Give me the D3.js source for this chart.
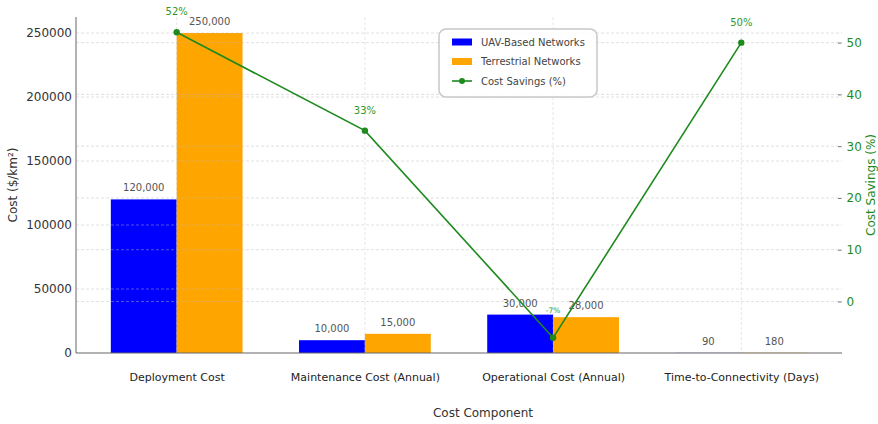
<!DOCTYPE html>
<html>
<head>
<meta charset="utf-8">
<script src="https://cdn.jsdelivr.net/npm/d3@7"></script>
<style>
  html, body { margin: 0; padding: 0; background: #fff; }
  svg { display: block; font-family: "DejaVu Sans", sans-serif; }
</style>
</head>
<body>
<svg id="chart" width="878" height="424"></svg>
<script>
// ---- data ----
const categories = ["Deployment Cost", "Maintenance Cost (Annual)", "Operational Cost (Annual)", "Time-to-Connectivity (Days)"];
const uavValues = [120000, 10000, 30000, 90];
const terrestrialValues = [250000, 15000, 28000, 180];
const savingsValues = [52, 33, -7, 50];
const costTicks = [0, 50000, 100000, 150000, 200000, 250000];
const savingsTicks = [0, 10, 20, 30, 40, 50];
const seriesNames = ["UAV-Based Networks", "Terrestrial Networks", "Cost Savings (%)"];

(function () {
// ---- layout ----
const pL = 76, pR = 842, pT = 17, pB = 353;
const barW = 0.35;
const colUAV = "#0000ff", colTer = "#ffa500", colSav = "#1e8a1e";
const gridCol = "#b8b8b8";

const svg = d3.select("#chart");

const lo = -barW, hi = categories.length - 1 + barW, pad = 0.05 * (hi - lo);
const x = d3.scaleLinear().domain([lo - pad, hi + pad]).range([pL, pR]);

const maxCost = d3.max(terrestrialValues.concat(uavValues));
const yL = d3.scaleLinear().domain([0, maxCost * 1.05]).range([pB, pT]);

const sMin = d3.min(savingsValues), sMax = d3.max(savingsValues), sSpan = sMax - sMin;
const yR = d3.scaleLinear().domain([sMin - 0.05 * sSpan, sMax + 0.05 * sSpan]).range([pB, pT]);

// ---- bars ----
const bars = svg.append("g");
bars.selectAll("rect.uav").data(uavValues).enter().append("rect")
  .attr("x", (d, i) => x(i - barW)).attr("width", x(barW) - x(0))
  .attr("y", d => yL(d)).attr("height", d => pB - yL(d))
  .attr("fill", colUAV);
bars.selectAll("rect.ter").data(terrestrialValues).enter().append("rect")
  .attr("x", (d, i) => x(i)).attr("width", x(barW) - x(0))
  .attr("y", d => yL(d)).attr("height", d => pB - yL(d))
  .attr("fill", colTer);

// ---- grid (drawn above bars, faint) ----
const grid = svg.append("g").attr("stroke", gridCol).attr("stroke-opacity", 0.55)
  .attr("stroke-width", 0.8).attr("stroke-dasharray", "3,2");
grid.selectAll("line.gl").data(costTicks.filter(d => d > 0)).enter().append("line")
  .attr("x1", pL).attr("x2", pR).attr("y1", d => yL(d)).attr("y2", d => yL(d));
grid.selectAll("line.gr").data(savingsTicks).enter().append("line")
  .attr("x1", pL).attr("x2", pR).attr("y1", d => yR(d)).attr("y2", d => yR(d));
grid.selectAll("line.gv").data(categories).enter().append("line")
  .attr("x1", (d, i) => x(i)).attr("x2", (d, i) => x(i)).attr("y1", pT).attr("y2", pB)
  .attr("stroke-dasharray", null).attr("stroke-opacity", 0.45);

// ---- bar value labels ----
const fmt = d3.format(",");
const lab = svg.append("g").attr("font-size", 10).attr("fill", "#555").attr("text-anchor", "middle");
lab.selectAll("text.u").data(uavValues).enter().append("text")
  .attr("x", (d, i) => x(i - barW / 2)).attr("y", d => yL(d) - 8).text(d => fmt(d));
lab.selectAll("text.t").data(terrestrialValues).enter().append("text")
  .attr("x", (d, i) => x(i + barW / 2)).attr("y", d => yL(d) - 8).text(d => fmt(d));

// ---- axes ----
const axL = svg.append("g").attr("transform", `translate(${pL},0)`)
  .call(d3.axisLeft(yL).tickValues(costTicks).tickFormat(d3.format("d")).tickSize(0).tickPadding(4));
axL.select(".domain").remove();
axL.selectAll("text").attr("font-size", 12).attr("fill", "#333").attr("font-family", "DejaVu Sans");

const axB = svg.append("g").attr("transform", `translate(0,${pB})`)
  .call(d3.axisBottom(x).tickValues(d3.range(categories.length)).tickFormat(i => categories[i]).tickSize(0).tickPadding(20));
axB.select(".domain").remove();
axB.selectAll("text").attr("font-size", 11).attr("fill", "#222").attr("font-family", "DejaVu Sans");

const axR = svg.append("g").attr("transform", `translate(838,0)`)
  .call(d3.axisRight(yR).tickValues(savingsTicks).tickSize(3.5).tickPadding(5));
axR.select(".domain").remove();
axR.selectAll("line").attr("stroke", "#777");
axR.selectAll("text").attr("font-size", 12).attr("fill", colSav).attr("font-family", "DejaVu Sans");

// spines
svg.append("line").attr("x1", pL).attr("x2", pL).attr("y1", pT).attr("y2", pB).attr("stroke", "#666").attr("stroke-width", 1);
svg.append("line").attr("x1", pL).attr("x2", pR).attr("y1", pB).attr("y2", pB).attr("stroke", "#666").attr("stroke-width", 1);

// ---- savings line ----
const line = d3.line().x((d, i) => x(i)).y(d => yR(d));
svg.append("path").datum(savingsValues).attr("d", line)
  .attr("fill", "none").attr("stroke", colSav).attr("stroke-width", 1.6);
svg.selectAll("circle.pt").data(savingsValues).enter().append("circle")
  .attr("cx", (d, i) => x(i)).attr("cy", d => yR(d)).attr("r", 3.2).attr("fill", colSav);
svg.append("g").attr("fill", "#2e9a2e").attr("text-anchor", "middle")
  .selectAll("text").data(savingsValues).enter().append("text")
  .attr("x", (d, i) => x(i)).attr("y", d => yR(d) - (d < 0 ? 25 : 17))
  .attr("font-size", d => d < 0 ? 7.5 : 10)
  .text(d => d + "%");

// ---- axis titles ----
svg.append("text").attr("transform", `translate(17,${(pT + pB) / 2}) rotate(-90)`)
  .attr("text-anchor", "middle").attr("font-size", 12).attr("fill", "#333").text("Cost ($/km²)");
svg.append("text").attr("transform", `translate(875,${(pT + pB) / 2}) rotate(-90)`)
  .attr("text-anchor", "middle").attr("font-size", 12).attr("fill", colSav).text("Cost Savings (%)");
svg.append("text").attr("x", 483).attr("y", 417)
  .attr("text-anchor", "middle").attr("font-size", 12).attr("fill", "#333").text("Cost Component");

// ---- legend ----
const lg = svg.append("g").attr("transform", "translate(439,29)");
lg.append("rect").attr("width", 158).attr("height", 68).attr("rx", 7)
  .attr("fill", "#fff").attr("fill-opacity", 0.85).attr("stroke", "#c8c8c8").attr("stroke-width", 1.5);
const items = lg.selectAll("g.it").data(seriesNames).enter().append("g")
  .attr("transform", (d, i) => `translate(0,${13 + i * 19.5})`);
items.each(function (d, i) {
  const g = d3.select(this);
  if (i < 2) {
    g.append("rect").attr("x", 13).attr("y", -3.5).attr("width", 20).attr("height", 7)
      .attr("fill", i === 0 ? colUAV : colTer);
  } else {
    g.append("line").attr("x1", 13).attr("x2", 33).attr("y1", 0).attr("y2", 0)
      .attr("stroke", colSav).attr("stroke-width", 1.6);
    g.append("circle").attr("cx", 23).attr("cy", 0).attr("r", 3).attr("fill", colSav);
  }
  g.append("text").attr("x", 42).attr("y", 0).attr("dy", "0.35em")
    .attr("font-size", 10).attr("fill", "#444").text(d);
});
})();
</script>
</body>
</html>
